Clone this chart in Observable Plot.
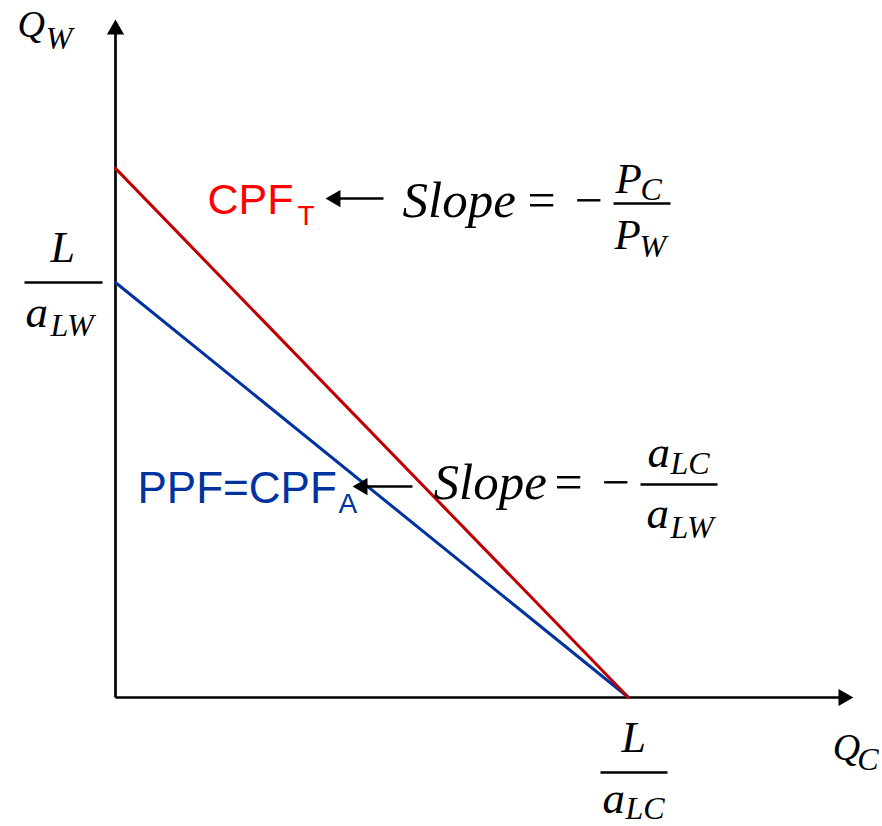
<!DOCTYPE html>
<html><head><meta charset="utf-8">
<script src="https://cdn.jsdelivr.net/npm/d3@7"></script>
<script src="https://cdn.jsdelivr.net/npm/@observablehq/plot@0.6"></script>
<style>html,body{margin:0;padding:0;background:#fff}</style>
</head><body><div id="chart"></div>
<script>
// ---- Data ----
const frontierNames = ["PPF=CPF_A", "CPF_T"];
const qcIntercept = 10;            // L / a_LC
const qwIntercepts = [8, 10.2];    // L / a_LW (autarky), trade CPF intercept
const lineColors = ["#0033a0", "#c00000"];

const lines = frontierNames.flatMap((name, i) => [
  {name, x: 0, y: qwIntercepts[i]},
  {name, x: qcIntercept, y: 0}
]);

const SERIF = "'Liberation Serif', 'DejaVu Serif', serif";
const SANS = "'Liberation Sans', Arial, sans-serif";

function label(t, x, y, o) {
  return Plot.text([{t, x, y}], {
    x: "x", y: "y", text: "t",
    textAnchor: o.anchor || "start", lineAnchor: "bottom",
    fontSize: o.size, fontFamily: o.family || SERIF,
    fontStyle: o.style || "italic", fill: o.fill || "black"
  });
}
function bar(x1, x2, y) {
  return Plot.link([{x1, x2, y}], {x1: "x1", x2: "x2", y1: "y", y2: "y", stroke: "black", strokeWidth: 2.7});
}
function arrow(x1, x2, y, headX, rot) {
  return [
    Plot.link([{x1, x2, y}], {x1: "x1", x2: "x2", y1: "y", y2: "y", stroke: "black", strokeWidth: 2.7}),
    Plot.dot([{x: headX, y}], {x: "x", y: "y", symbol: "triangle", r: 6.4, fill: "black", stroke: "none", rotate: rot})
  ];
}

const marks = [
  // axes
  Plot.link([{x1: 0, y1: 0, x2: 14.23, y2: 0}], {x1: "x1", y1: "y1", x2: "x2", y2: "y2", stroke: "black", strokeWidth: 2.7}),
  Plot.link([{x1: 0, y1: 0, x2: 0, y2: 12.86}], {x1: "x1", y1: "y1", x2: "x2", y2: "y2", stroke: "black", strokeWidth: 2.7}),
  Plot.dot([{x: 14.19, y: 0}], {x: "x", y: "y", symbol: "triangle", r: 6.4, fill: "black", stroke: "none", rotate: 90}),
  Plot.dot([{x: 0, y: 12.877}], {x: "x", y: "y", symbol: "triangle", r: 6.4, fill: "black", stroke: "none", rotate: 0}),
  // frontiers
  Plot.line(lines, {x: "x", y: "y", z: "name", stroke: d => lineColors[frontierNames.indexOf(d.name)], strokeWidth: 3}),
  // axis titles
  label("Q", -1.91, 12.74, {size: 38}),
  label("W", -1.36, 12.51, {size: 32}),
  label("Q", 13.98, -1.214, {size: 38}),
  label("C", 14.46, -1.407, {size: 32}),
  // left tick: L / a_LW
  label("L", -1.03, qwIntercepts[0] + 0.386, {size: 44, anchor: "middle"}),
  bar(-1.774, -0.253, qwIntercepts[0]),
  label("a", -1.754, 7.133, {size: 45}),
  label("LW", -1.267, 6.978, {size: 32}),
  // bottom tick: L / a_LC
  label("L", 10.1, -1.06, {size: 44, anchor: "middle"}),
  bar(9.454, 10.76, -1.446),
  label("a", 9.493, -2.236, {size: 45}),
  label("LC", 9.942, -2.351, {size: 32}),
  // CPF_T
  label("CPF", 1.793, 9.311, {size: 43, family: SANS, style: "normal", fill: "#ff0000"}),
  label("T", 3.548, 9.099, {size: 28, family: SANS, style: "normal", fill: "#ff0000"}),
  ...arrow(5.224, 4.288, 9.619, 4.288, -90),
  // PPF = CPF_A
  label("PPF=CPF", 0.429, 3.759, {size: 44, family: SANS, style: "normal", fill: "#0033a0"}),
  label("A", 4.347, 3.547, {size: 28, family: SANS, style: "normal", fill: "#0033a0"}),
  ...arrow(5.789, 4.815, 4.067, 4.815, -90),
  // Slope = - P_C / P_W
  label("Slope", 5.595, 9.272, {size: 51}),
  label("=", 8.304, 9.272, {size: 50, style: "normal", anchor: "middle"}),
  label("\u2212", 9.22, 9.272, {size: 50, style: "normal", anchor: "middle"}),
  bar(9.708, 10.819, 9.523),
  label("P", 9.747, 9.716, {size: 43}),
  label("C", 10.234, 9.581, {size: 32}),
  label("P", 9.727, 8.655, {size: 43}),
  label("W", 10.214, 8.482, {size: 32}),
  // Slope = - a_LC / a_LW
  label("Slope", 6.199, 3.836, {size: 51}),
  label("=", 8.83, 3.836, {size: 50, style: "normal", anchor: "middle"}),
  label("\u2212", 9.747, 3.836, {size: 50, style: "normal", anchor: "middle"}),
  bar(10.234, 11.735, 4.106),
  label("a", 10.37, 4.453, {size: 45}),
  label("LC", 10.819, 4.299, {size: 32}),
  label("a", 10.351, 3.258, {size: 45}),
  label("LW", 10.819, 3.084, {size: 32})
];

const chart = Plot.plot({
  width: 882, height: 826, margin: 0,
  style: {background: "white"},
  x: {domain: [0, 10], range: [115, 628], axis: null},
  y: {domain: [0, 8], range: [697, 282], axis: null},
  marks
});
document.getElementById("chart").appendChild(chart);
</script>
</body></html>
